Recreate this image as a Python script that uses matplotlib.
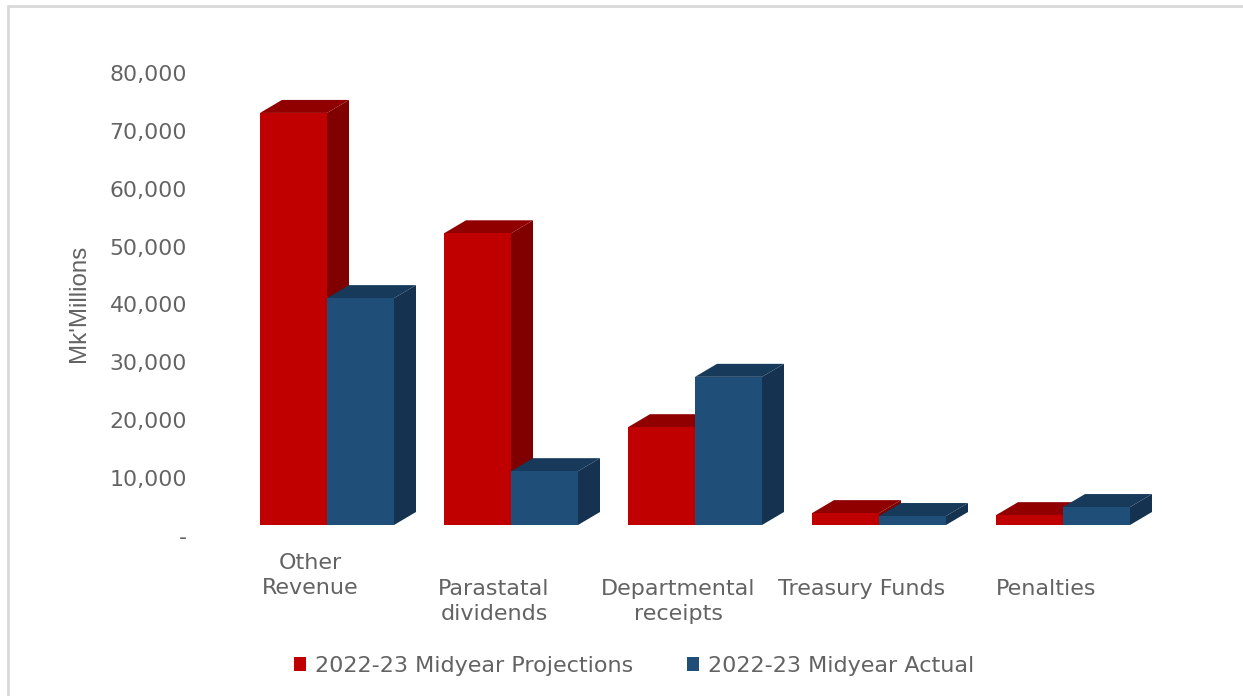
import matplotlib
matplotlib.use("Agg")
import matplotlib.pyplot as plt
from matplotlib.patches import Polygon, Patch, Rectangle
from matplotlib.ticker import FuncFormatter
from matplotlib.transforms import ScaledTranslation

# values (Mk'Millions)
categories = ["Other\nRevenue", "Parastatal\ndividends", "Departmental\nreceipts", "Treasury Funds", "Penalties"]
projections = [71200, 50400, 16900, 2050, 1700]
actual = [39200, 9300, 25600, 1550, 3100]
y_ticks = [0, 10000, 20000, 30000, 40000, 50000, 60000, 70000, 80000]

series_names = ["2022-23 Midyear Projections", "2022-23 Midyear Actual"]
TEXT = "#636363"
FRONT = ["#c00000", "#1f4e79"]
TOP = ["#900000", "#173a5b"]
SIDE = ["#800000", "#153250"]

W, H = 1243, 696
fig = plt.figure(figsize=(W / 100, H / 100), dpi=100, facecolor="white")
plt.rcParams["font.family"] = "DejaVu Sans"

# axes box in pixels
left, right, top, bottom = 180, 1170, 73, 536
ax = fig.add_axes([left / W, 1 - bottom / H, (right - left) / W, (bottom - top) / H])
px_x = 184.0  # pixels per category
ax.set_xlim((left - 327) / px_x, (right - 327) / px_x)
ax.set_ylim(0, 80000)
px_y = (bottom - top) / 80000

bar_w = 67 / px_x
depth_x = 22 / px_x
depth_y = 13 / px_y
floor = 11 / px_y  # front faces sit above the zero line


def bar3d(x, val, idx):
    # top and side faces first, then the front through ax.bar
    x0, x1, y0, y1 = x, x + bar_w, floor, floor + val
    ax.add_patch(Polygon([(x0, y1), (x1, y1), (x1 + depth_x, y1 + depth_y), (x0 + depth_x, y1 + depth_y)],
                         closed=True, fc=TOP[idx], ec="none", clip_on=False))
    ax.add_patch(Polygon([(x1, y0), (x1 + depth_x, y0 + depth_y), (x1 + depth_x, y1 + depth_y), (x1, y1)],
                         closed=True, fc=SIDE[idx], ec="none", clip_on=False))
    ax.bar(x0, val, bar_w, bottom=floor, align="edge", color=FRONT[idx], linewidth=0)


for i in range(len(categories)):
    bar3d(i - bar_w, projections[i], 0)
    bar3d(i, actual[i], 1)

for s in ax.spines.values():
    s.set_visible(False)

ax.set_yticks(y_ticks)
ax.yaxis.set_major_formatter(FuncFormatter(lambda v, p: "-" if v == 0 else f"{int(v):,}"))
ax.set_xticks([i - 17 / px_x for i in range(len(categories))])
ax.set_xticklabels(categories, linespacing=1.32, va="top")
ax.tick_params(axis="y", length=0, pad=-5, labelsize=15.8, labelcolor=TEXT)
ax.tick_params(axis="x", length=0, pad=31, labelsize=16, labelcolor=TEXT)

# Excel pushes the first label one line higher than the others
first = ax.get_xticklabels()[0]
first.set_transform(first.get_transform() + ScaledTranslation(0, 26 / 100, fig.dpi_scale_trans))

fig.text(79 / W, 1 - 303 / H, "Mk'Millions", rotation=90, ha="center", va="center",
         fontsize=17.4, color=TEXT, family="Liberation Sans")

handles = [Patch(fc=FRONT[0], ec="none"), Patch(fc=FRONT[1], ec="none")]
fig.legend(handles, series_names, loc="center left", bbox_to_anchor=(294 / W, 1 - 666 / H),
           ncol=2, frameon=False, fontsize=16, labelcolor=TEXT, borderpad=0, borderaxespad=0,
           handlelength=0.55, handleheight=0.55, handletextpad=0.4, columnspacing=2.4)

# thin grey chart frame, its right and bottom sides fall outside the crop
fig.add_artist(Rectangle((7.5 / W, -0.05), 1.1, 1.05 - 6 / H, transform=fig.transFigure,
                         fill=False, ec="#d9d9d9", lw=2))

fig.savefig("out.png", dpi=100)
